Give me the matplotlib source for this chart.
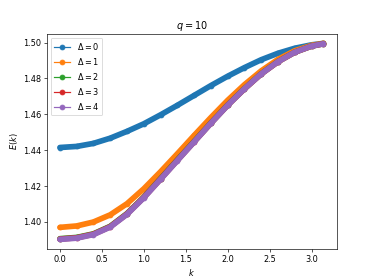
import numpy as np
import matplotlib
matplotlib.use('Agg')
import matplotlib.pyplot as plt

# momentum grid
k = [0.0, 0.2, 0.4, 0.6, 0.8, 1.0, 1.2, 1.4, 1.6, 1.8, 2.0, 2.2, 2.4, 2.6, 2.8, 3.0, 3.1416]

# E(k) for each Delta
E_d0 = [1.4415, 1.4421, 1.4438, 1.4467, 1.4505, 1.4547, 1.4597, 1.4650, 1.4705,
        1.4760, 1.4812, 1.4860, 1.4904, 1.4940, 1.4968, 1.4987, 1.4995]
E_d1 = [1.3970, 1.3978, 1.4000, 1.4040, 1.4102, 1.4185, 1.4280, 1.4380, 1.4482,
        1.4582, 1.4678, 1.4765, 1.4842, 1.4906, 1.4954, 1.4984, 1.4995]
E_d2 = [1.3907, 1.3914, 1.3934, 1.3976, 1.4047, 1.4139, 1.4242, 1.4346, 1.4449,
        1.4552, 1.4652, 1.4743, 1.4826, 1.4894, 1.4946, 1.4980, 1.4993]
E_d3 = [1.3905, 1.3912, 1.3932, 1.3974, 1.4045, 1.4137, 1.4240, 1.4344, 1.4447,
        1.4551, 1.4651, 1.4742, 1.4825, 1.4893, 1.4946, 1.4980, 1.4993]
E_d4 = [1.3903, 1.3910, 1.3930, 1.3972, 1.4043, 1.4135, 1.4238, 1.4342, 1.4446,
        1.4550, 1.4650, 1.4742, 1.4825, 1.4893, 1.4946, 1.4980, 1.4993]

series = [E_d0, E_d1, E_d2, E_d3, E_d4]
labels = [r'$\Delta = 0$', r'$\Delta = 1$', r'$\Delta = 2$', r'$\Delta = 3$', r'$\Delta = 4$']
colors = ['C0', 'C1', 'C2', 'C3', 'C4']

dpi = 58.4
fig, ax = plt.subplots(figsize=(374 / dpi, 280 / dpi), dpi=dpi)

for E, lab, c in zip(series, labels, colors):
    # dense marker band
    ax.plot(k, E, color=c, lw=7, solid_capstyle='round')
    ax.plot(k, E, 'o-', color=c, label=lab)

ax.set_title(r'$q = 10$')
ax.set_xlabel(r'$k$')
ax.set_ylabel(r'$E(k)$')
ax.legend(loc='upper left')

fig.savefig('out.png', dpi=dpi)
